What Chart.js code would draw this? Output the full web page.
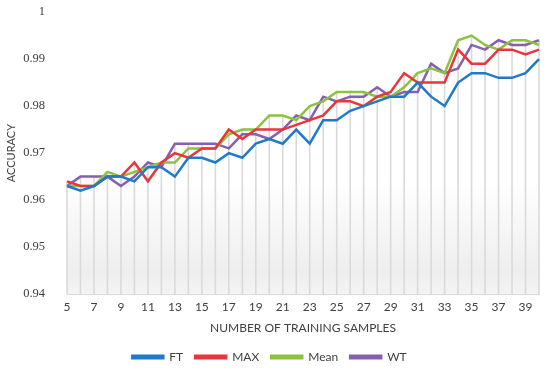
<!DOCTYPE html>
<html>
<head>
<meta charset="utf-8">
<script src="https://cdn.jsdelivr.net/npm/chart.js@4.4.1/dist/chart.umd.min.js"></script>
<style>
  html, body { margin: 0; padding: 0; background: #ffffff; }
  #wrap { width: 550px; height: 377px; position: relative; }
</style>
</head>
<body>
<div id="wrap"><canvas id="c" width="550" height="377"></canvas></div>
<script>
const categories = ['5','6','7','8','9','10','11','12','13','14','15','16','17','18','19','20','21','22','23','24','25','26','27','28','29','30','31','32','33','34','35','36','37','38','39','40'];

const ftValues   = [0.963,0.962,0.963,0.965,0.965,0.964,0.967,0.967,0.965,0.969,0.969,0.968,0.970,0.969,0.972,0.973,0.972,0.975,0.972,0.977,0.977,0.979,0.980,0.981,0.982,0.982,0.985,0.982,0.980,0.985,0.987,0.987,0.986,0.986,0.987,0.990];
const maxValues  = [0.964,0.963,0.963,0.965,0.965,0.968,0.964,0.968,0.970,0.969,0.971,0.971,0.975,0.973,0.975,0.975,0.975,0.976,0.977,0.978,0.981,0.981,0.980,0.982,0.983,0.987,0.985,0.985,0.985,0.992,0.989,0.989,0.992,0.992,0.991,0.992];
const meanValues = [0.963,0.963,0.963,0.966,0.965,0.966,0.967,0.968,0.968,0.971,0.971,0.971,0.974,0.975,0.975,0.978,0.978,0.977,0.980,0.981,0.983,0.983,0.983,0.982,0.982,0.984,0.987,0.988,0.987,0.994,0.995,0.993,0.992,0.994,0.994,0.993];
const wtValues   = [0.963,0.965,0.965,0.965,0.963,0.965,0.968,0.967,0.972,0.972,0.972,0.972,0.971,0.974,0.974,0.973,0.975,0.978,0.977,0.982,0.981,0.982,0.982,0.984,0.982,0.983,0.983,0.989,0.987,0.988,0.993,0.992,0.994,0.993,0.993,0.994];

const seriesNames = ['FT','MAX','Mean','WT'];
const seriesColors = ['#1f7bc9','#e8363c','#8cc23f','#8660ae'];
const xTickLabels = ['5','7','9','11','13','15','17','19','21','23','25','27','29','31','33','35','37','39'];

const yMin = 0.94, yMax = 1, yStep = 0.01;

const bgPlugin = {
  id: 'bgPlugin',
  beforeDraw(chart) {
    const {ctx, chartArea: a} = chart;
    ctx.save();
    ctx.fillStyle = '#ffffff';
    ctx.fillRect(0, 0, chart.width, chart.height);
    const g = ctx.createLinearGradient(0, a.top, 0, a.bottom);
    g.addColorStop(0, 'rgba(255,255,255,1)');
    g.addColorStop(0.6, 'rgba(255,255,255,1)');
    g.addColorStop(0.92, 'rgba(238,238,238,1)');
    g.addColorStop(1, 'rgba(244,244,244,1)');
    ctx.fillStyle = g;
    ctx.fillRect(a.left, a.top, a.right - a.left, a.bottom - a.top);
    ctx.restore();
  }
};

const dropLines = {
  id: 'dropLines',
  beforeDatasetsDraw(chart) {
    const {ctx, chartArea: a} = chart;
    const metas = chart.getSortedVisibleDatasetMetas();
    if (!metas.length) return;
    const n = metas[0].data.length;
    ctx.save();
    ctx.strokeStyle = '#dadada';
    ctx.lineWidth = 1.6;
    for (let i = 0; i < n; i++) {
      let top = Infinity, x = metas[0].data[i].x;
      metas.forEach(m => { if (m.data[i] && m.data[i].y < top) top = m.data[i].y; });
      ctx.beginPath();
      ctx.moveTo(x, top);
      ctx.lineTo(x, a.bottom);
      ctx.stroke();
    }
    ctx.restore();
  }
};

const datasets = [ftValues, maxValues, meanValues, wtValues].map((vals, i) => ({
  label: seriesNames[i],
  data: vals,
  borderColor: seriesColors[i],
  backgroundColor: seriesColors[i],
  borderWidth: 2.5,
  pointRadius: 0,
  tension: 0,
  fill: false
}));

new Chart(document.getElementById('c'), {
  type: 'line',
  data: { labels: categories, datasets },
  plugins: [bgPlugin, dropLines],
  options: {
    responsive: false,
    animation: false,
    devicePixelRatio: 1,
    layout: { padding: { left: 0, right: 11, top: 12, bottom: 4 } },
    plugins: {
      legend: {
        position: 'bottom',
        labels: {
          boxWidth: 31,
          boxHeight: 2.5,
          padding: 12,
          color: '#404040',
          font: { family: 'Lato', size: 12 }
        }
      },
      tooltip: { enabled: false }
    },
    scales: {
      x: {
        offset: false,
        grid: { display: false, drawTicks: false },
        border: { display: true, color: '#d9d9d9', width: 1 },
        ticks: {
          autoSkip: false,
          maxRotation: 0,
          padding: 6,
          color: '#404040',
          font: { family: 'Lato', size: 12 },
          callback: function(v, i) {
            const lbl = categories[i];
            return xTickLabels.includes(lbl) ? lbl : '';
          }
        },
        title: {
          display: true,
          text: 'NUMBER OF TRAINING SAMPLES',
          color: '#404040',
          font: { family: 'Lato', size: 12 },
          padding: { top: 0, bottom: 4 }
        }
      },
      y: {
        min: yMin,
        max: yMax,
        grid: { display: false, drawTicks: true, tickLength: 19 },
        border: { display: false },
        ticks: {
          stepSize: yStep,
          padding: 3,
          color: '#404040',
          font: { family: 'Liberation Serif', size: 12.5 },
          callback: v => String(Number(v.toFixed(2)))
        },
        title: {
          display: true,
          text: 'ACCURACY',
          color: '#404040',
          font: { family: 'Lato', size: 11 },
          padding: { top: 5, bottom: 0 }
        },
        afterFit(scale) { scale.width = 67; }
      }
    }
  }
});
</script>
</body>
</html>
